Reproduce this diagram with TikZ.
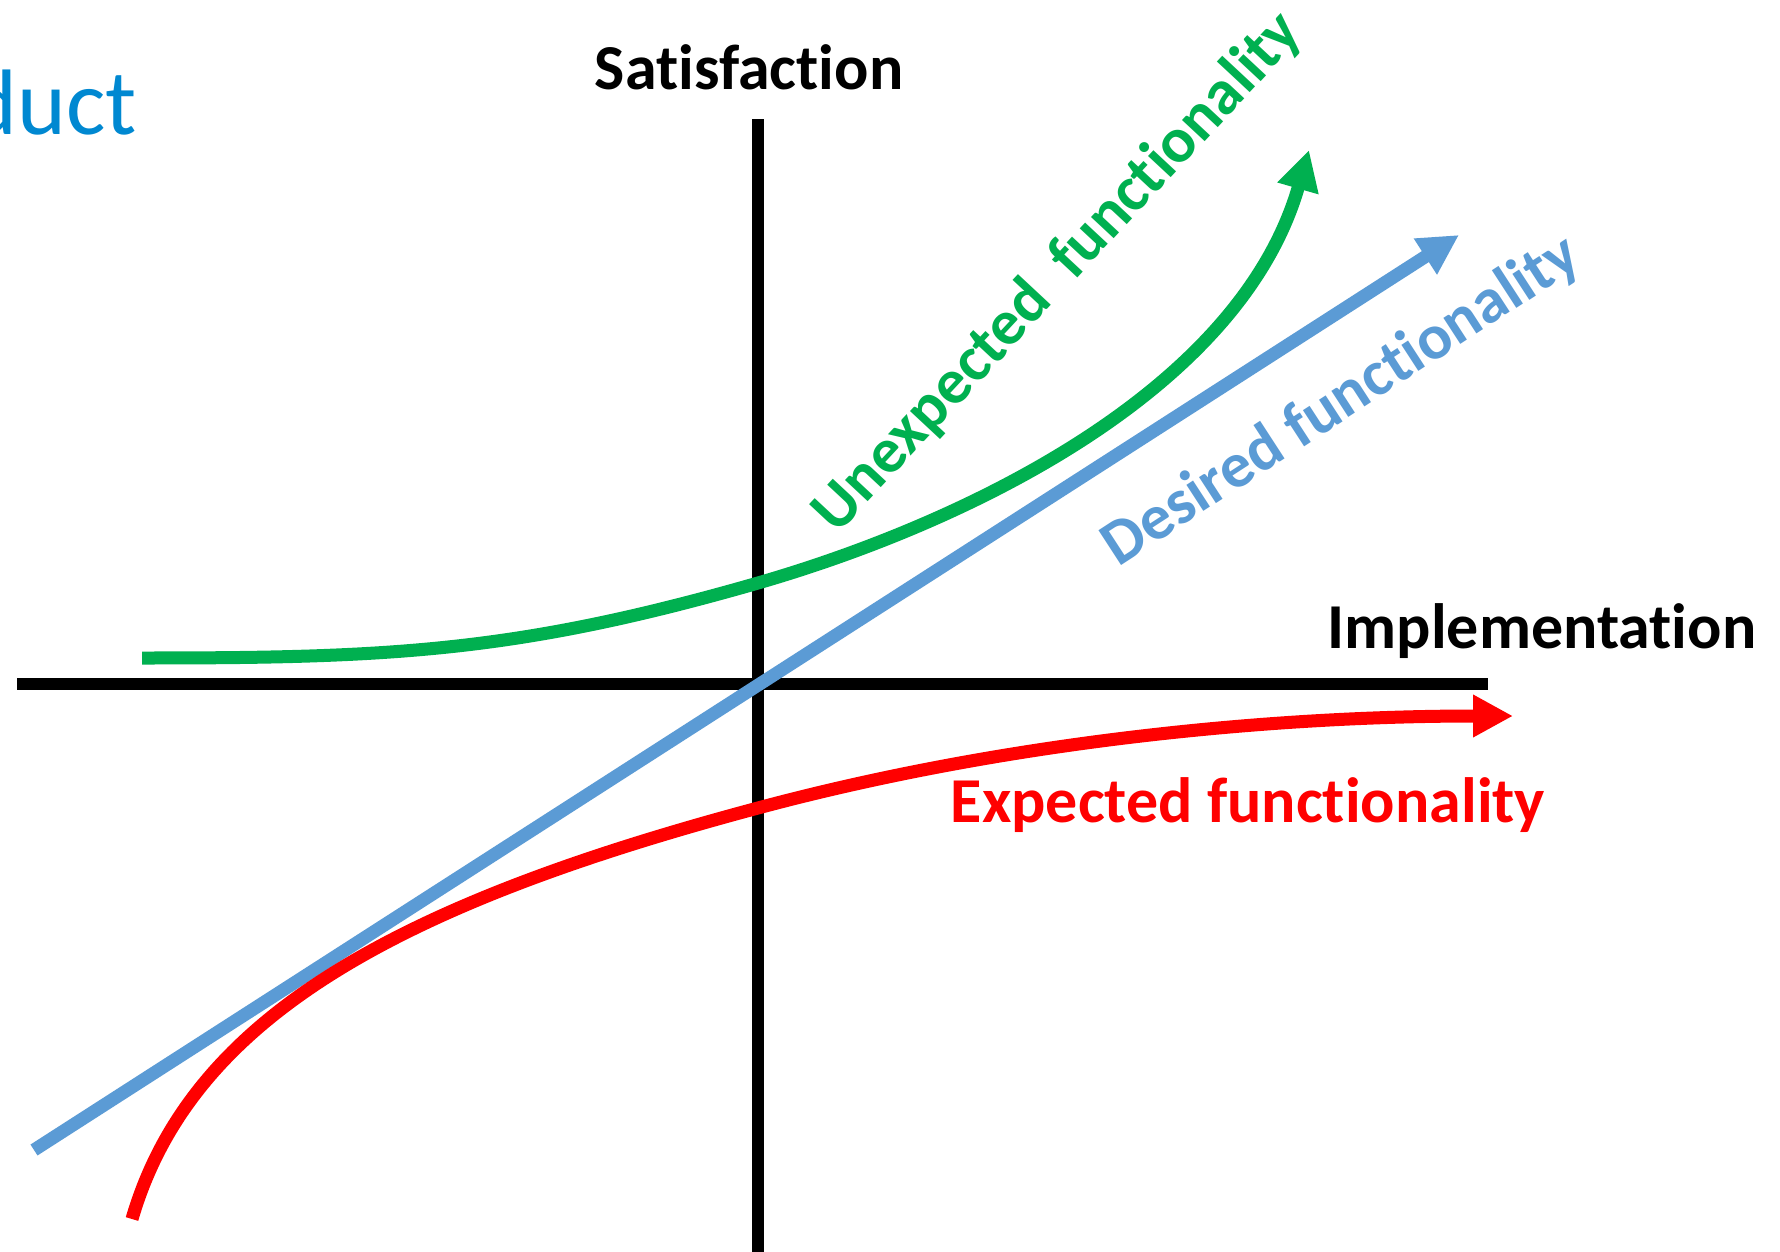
\documentclass[tikz,border=0pt]{standalone}
\usepackage{fontspec}
\setmainfont{Carlito}[Ligatures=NoCommon]
\usetikzlibrary{arrows.meta}
\definecolor{kanogreen}{HTML}{00B050}
\definecolor{kanoblue}{HTML}{5B9BD5}
\definecolor{kanored}{HTML}{FF0000}
\definecolor{titleblue}{HTML}{0088D1}
\begin{document}
\begin{tikzpicture}[x=1pt,y=-1pt,
  axisline/.style={line width=12pt,draw=black},
  kcurve/.style={line width=13pt,-{Triangle[length=40pt,width=40pt]}},
  axislabel/.style={font=\bfseries\fontsize{64}{70}\selectfont,inner sep=0pt,anchor=base},
  curvelabel/.style={font=\bfseries\fontsize{64}{70}\selectfont,inner sep=0pt,anchor=base}]
\fill[white] (0,0) rectangle (1780,1252);
\useasboundingbox (0,0) rectangle (1780,1252);
% axes
\coordinate (xl) at (17,684);
\coordinate (xr) at (1488,684);
\coordinate (yt) at (758,119);
\coordinate (yb) at (758,1252);
\draw[axisline] (xl) -- (xr);
\draw[axisline] (yb) -- (yt);
% unexpected (green)
\coordinate (g0) at (142,658);
\coordinate (gm) at (758,583);
\coordinate (g1) at (1309,150);
\draw[kcurve,kanogreen] (g0) .. controls (392,658) and (518,652) .. (gm)
  .. controls (969,522) and (1240,390) .. (g1);
% desired (blue)
\coordinate (b0) at (34,1150);
\coordinate (b1) at (1459,235);
\draw[kcurve,kanoblue] (b0) -- (b1);
% expected (red)
\coordinate (r0) at (132,1219);
\coordinate (rm) at (758,808);
\coordinate (r1) at (1513,716);
\draw[kcurve,kanored] (r0) .. controls (190,1020) and (391,906) .. (rm)
  .. controls (1000,743) and (1263,716) .. (r1);
% labels
\node[axislabel] (sat) at (749,90) {Satisfaction};
\node[axislabel] (impl) at (1542,648) {Implementation};
\node[curvelabel,text=kanored] (exp) at (1248,822) {Expected functionality};
\node[curvelabel,text=kanoblue,rotate=33] (des) at (1351,416) {Desired functionality};
\node[curvelabel,text=kanogreen,rotate=47] (unx) at (1071,285) {Unexpected~~functionality};
\node[font=\fontsize{93}{100}\selectfont,text=titleblue,inner sep=0pt,anchor=base east] (prod) at (137,135) {duct};
\end{tikzpicture}
\end{document}
